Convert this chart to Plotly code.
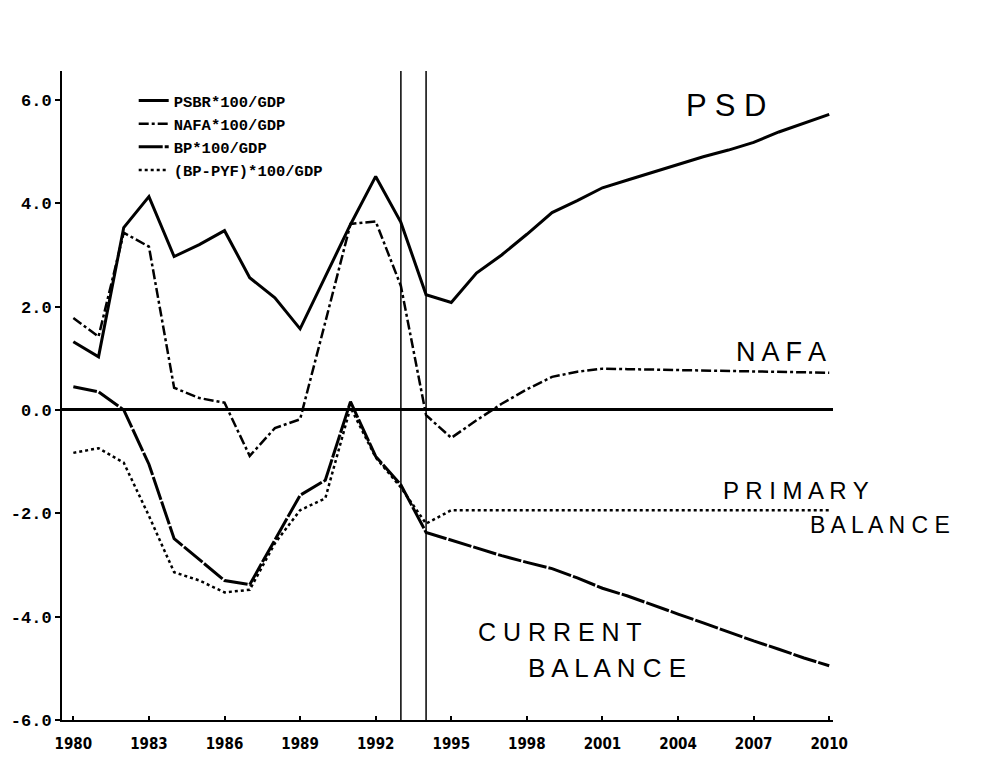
import plotly.graph_objects as go

# annual data, 1980-2010 (% of GDP)
years = list(range(1980, 2011))

psbr = [1.32, 1.03, 3.53, 4.13, 2.97, 3.20, 3.47, 2.56, 2.17, 1.57, 2.58,
        3.59, 4.52, 3.63, 2.23, 2.08, 2.65, 3.00, 3.40, 3.82, 4.05,
        4.30, 4.45, 4.60, 4.75, 4.90, 5.03, 5.18, 5.38, 5.55, 5.72]

nafa = [1.78, 1.42, 3.43, 3.16, 0.43, 0.23, 0.14, -0.89, -0.35, -0.18, 1.70,
        3.60, 3.65, 2.40, -0.10, -0.54, -0.20, 0.12, 0.40, 0.64, 0.74,
        0.80, 0.79, 0.78, 0.77, 0.76, 0.75, 0.74, 0.73, 0.72, 0.72]

bp = [0.45, 0.35, 0.00, -1.05, -2.49, -2.90, -3.30, -3.38, -2.50, -1.65, -1.36,
      0.16, -0.90, -1.45, -2.37, -2.52, -2.68, -2.82, -2.95, -3.07, -3.25,
      -3.45, -3.60, -3.78, -3.95, -4.12, -4.30, -4.47, -4.63, -4.80, -4.95]

bp_pyf = [-0.83, -0.74, -1.02, -2.05, -3.14, -3.30, -3.53, -3.48, -2.58, -1.94, -1.71,
          0.05, -0.92, -1.50, -2.20, -1.94, -1.94, -1.94, -1.94, -1.94, -1.94,
          -1.94, -1.94, -1.94, -1.94, -1.94, -1.94, -1.94, -1.94, -1.94, -1.94]

series_names = ["PSBR*100/GDP", "NAFA*100/GDP", "BP*100/GDP", "(BP-PYF)*100/GDP"]

x_ticks = list(range(1980, 2011, 3))
y_ticks = [-6, -4, -2, 0, 2, 4, 6]
y_tick_text = ["-6.0", "-4.0", "-2.0", "0.0", "2.0", "4.0", "6.0"]

# break between history and projection
break_years = [1993, 1994]

# handwritten notes (text, year, value, size)
notes = [("P S D", 2005.9, 5.9, 31),
         ("N A F A", 2008.1, 1.12, 27),
         ("P R I M A R Y", 2008.7, -1.55, 24),
         ("B A L A N C E", 2012.0, -2.23, 23),
         ("C U R R E N T", 1999.3, -4.3, 25),
         ("B A L A N C E", 2001.2, -5.0, 26)]

x_range = [1979.55, 2010.15]
y_range = [-6, 6.56]

mono = "Liberation Mono, DejaVu Sans Mono, monospace"

fig = go.Figure()

styles = [dict(width=3, dash="solid"),
          dict(width=2.5, dash="10px,3px,3px,3px"),
          dict(width=3, dash="24px,2px"),
          dict(width=2.5, dash="dot")]

for name, vals, st in zip(series_names, [psbr, nafa, bp, bp_pyf], styles):
    fig.add_trace(go.Scatter(x=years, y=vals, mode="lines", name=name,
                             line=dict(color="black", **st)))

for yr in break_years:
    fig.add_shape(type="line", x0=yr, x1=yr, y0=0, y1=1.0, xref="x", yref="paper",
                  line=dict(color="black", width=1.5))

# notes placed in paper coordinates so the one right of the axis still shows
for txt, xx, yy, sz in notes:
    xp = (xx - x_range[0]) / (x_range[1] - x_range[0])
    yp = (yy - y_range[0]) / (y_range[1] - y_range[0])
    fig.add_annotation(x=xp, y=yp, text=txt, showarrow=False, xref="paper", yref="paper",
                       xanchor="center", yanchor="middle",
                       font=dict(family="Liberation Sans, DejaVu Sans", size=sz, color="black"))

fig.update_layout(
    width=984, height=758,
    plot_bgcolor="white", paper_bgcolor="white",
    margin=dict(l=54, r=159, t=63, b=46, autoexpand=False),
    showlegend=True,
    legend=dict(x=0.093, y=0.98, xanchor="left", yanchor="top",
                bgcolor="rgba(0,0,0,0)", borderwidth=0, itemwidth=30,
                tracegroupgap=0,
                font=dict(family=mono, size=15.5, color="black", weight="bold")),
)

fig.update_xaxes(range=x_range, tickvals=x_ticks, automargin=False,
                 showgrid=False, zeroline=False,
                 showline=True, linewidth=2, linecolor="black",
                 ticks="inside", ticklen=4, tickwidth=1.5, tickcolor="black",
                 ticklabelstandoff=9,
                 tickfont=dict(family="Liberation Sans Narrow, DejaVu Sans Condensed, DejaVu Sans Mono",
                               size=15, color="black", weight="bold"))

fig.update_yaxes(range=y_range, tickvals=y_ticks, ticktext=y_tick_text, automargin=False,
                 showgrid=False,
                 zeroline=True, zerolinewidth=2.5, zerolinecolor="black",
                 showline=True, linewidth=2, linecolor="black",
                 ticks="outside", ticklen=5, tickwidth=1.5, tickcolor="black",
                 tickfont=dict(family=mono, size=17, color="black", weight="bold"))

fig.write_html("out.html")
